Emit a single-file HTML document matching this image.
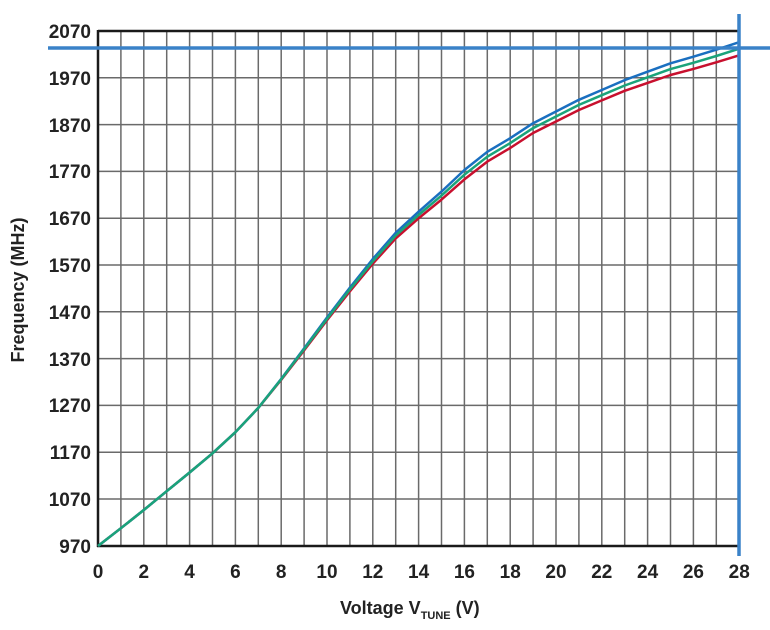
<!DOCTYPE html>
<html><head><meta charset="utf-8"><style>
body{margin:0;background:#fff}
svg{display:block}
text{font-family:"Liberation Sans",sans-serif;font-weight:bold;fill:#222}
</style></head><body>
<svg width="770" height="630" viewBox="0 0 770 630" xmlns="http://www.w3.org/2000/svg">
<g stroke="#6a6a6a" stroke-width="1.5">
<path d="M120.9 31V546M143.8 31V546M166.7 31V546M189.6 31V546M212.5 31V546M235.4 31V546M258.3 31V546M281.2 31V546M304.1 31V546M327 31V546M349.9 31V546M372.8 31V546M395.7 31V546M418.6 31V546M441.5 31V546M464.4 31V546M487.3 31V546M510.2 31V546M533.1 31V546M556 31V546M578.9 31V546M601.8 31V546M624.7 31V546M647.6 31V546M670.5 31V546M693.4 31V546M716.3 31V546"/>
<path d="M98 77.8H739M98 124.6H739M98 171.4H739M98 218.2H739M98 265H739M98 311.8H739M98 358.6H739M98 405.4H739M98 452.2H739M98 499H739"/>
</g>
<path d="M98 31H739M98 30V547M97 546H739" stroke="#1a1a1a" stroke-width="2.5" fill="none"/>
<g fill="none" stroke-width="2.5" stroke-linejoin="round">
<polyline stroke="#c8102e" points="98,546 120.9,528.2 143.8,510 166.7,491.2 189.6,472.5 212.5,453.3 235.4,432.2 258.3,407.9 281.2,379.8 304.1,350.3 327,320.3 349.9,291.3 372.8,263.7 395.7,238.4 418.6,218.3 441.5,199.6 464.4,179.4 487.3,161.6 510.2,148 533.1,133 556,121.5 578.9,110 601.8,100.4 624.7,90.8 647.6,82.9 670.5,75 693.4,68.9 716.3,62.3 739.2,55.3"/>
<polyline stroke="#1a6fc0" points="98,546 120.9,528.2 143.8,510 166.7,491.2 189.6,472.5 212.5,453.3 235.4,432.2 258.3,407.9 281.2,378.9 304.1,348.4 327,317.5 349.9,287.6 372.8,259 395.7,232.8 418.6,211.7 441.5,191.6 464.4,170 487.3,151.8 510.2,138.2 533.1,123.2 556,111.5 578.9,99.8 601.8,90 624.7,80.1 647.6,71.7 670.5,63.3 693.4,56.7 716.3,49.7 739.2,42.2"/>
<polyline stroke="#1aa37a" points="98,546 120.9,528.2 143.8,510 166.7,491.2 189.6,472.5 212.5,453.3 235.4,432.2 258.3,407.9 281.2,379.3 304.1,349.3 327,318.9 349.9,289.4 372.8,261.3 395.7,235.6 418.6,215 441.5,195.6 464.4,174.7 487.3,156.7 510.2,143.1 533.1,128.1 556,116.5 578.9,104.9 601.8,95.2 624.7,85.5 647.6,77.3 670.5,69.1 693.4,62.8 716.3,56 739.2,48.7"/>
</g>
<path d="M48 48H770M739 14V556" stroke="#3a82c8" stroke-width="3.5"/>
<g font-size="19" text-anchor="end">
<text x="91" y="38">2070</text><text x="91" y="85">1970</text><text x="91" y="132">1870</text><text x="91" y="178">1770</text><text x="91" y="225">1670</text><text x="91" y="272">1570</text><text x="91" y="319">1470</text><text x="91" y="366">1370</text><text x="91" y="412">1270</text><text x="91" y="459">1170</text><text x="91" y="506">1070</text><text x="91" y="553">970</text>
</g>
<g font-size="19" text-anchor="middle">
<text x="98" y="578">0</text><text x="143.8" y="578">2</text><text x="189.6" y="578">4</text><text x="235.4" y="578">6</text><text x="281.2" y="578">8</text><text x="327" y="578">10</text><text x="372.8" y="578">12</text><text x="418.6" y="578">14</text><text x="464.4" y="578">16</text><text x="510.2" y="578">18</text><text x="556" y="578">20</text><text x="601.8" y="578">22</text><text x="647.6" y="578">24</text><text x="693.4" y="578">26</text><text x="739.2" y="578">28</text>
</g>
<text x="24" y="290" font-size="18" text-anchor="middle" transform="rotate(-90 24 290)">Frequency (MHz)</text>
<text x="340" y="614" font-size="18">Voltage V<tspan font-size="11" dy="5">TUNE</tspan><tspan dy="-5"> (V)</tspan></text>
</svg>
</body></html>
